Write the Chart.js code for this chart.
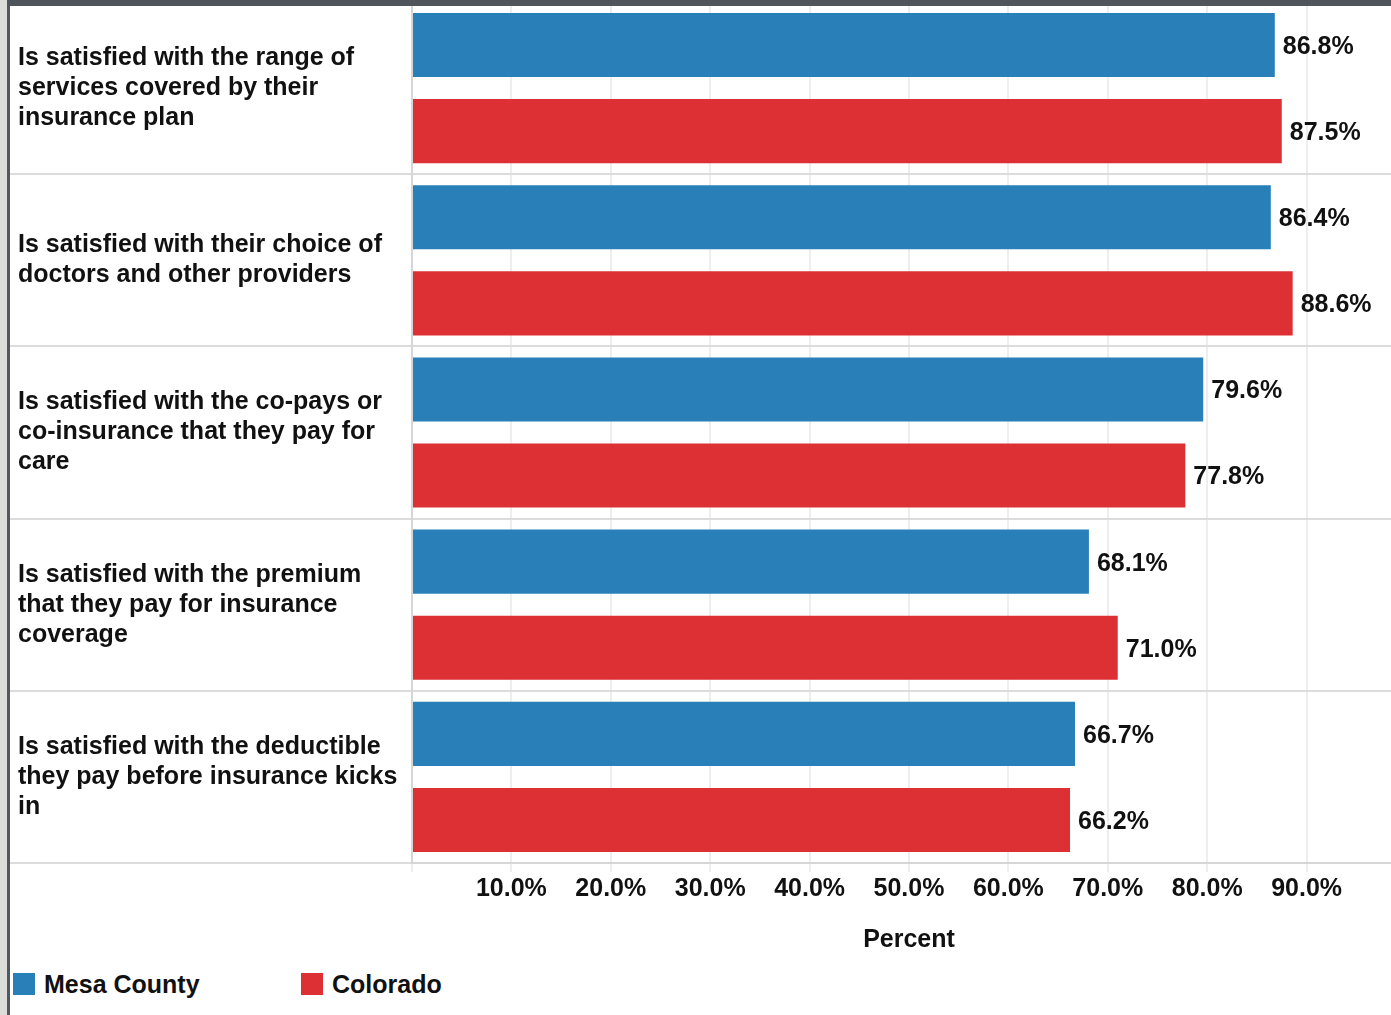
<!DOCTYPE html>
<html>
<head>
<meta charset="utf-8">
<script src="https://cdn.jsdelivr.net/npm/chart.js@4/dist/chart.umd.min.js"></script>
<style>
  html, body { margin: 0; padding: 0; background: #fff; overflow: hidden; }
  body { width: 1391px; height: 1015px; position: relative; font-family: "Liberation Sans", Arial, sans-serif; }
  #sideStrip { position: absolute; left: 0; top: 0; width: 7px; height: 1015px; background: #dcdcd8; }
  #sideLine { position: absolute; left: 7px; top: 0; width: 3px; height: 1015px; background: #54575c; }
  #topBar { position: absolute; left: 7px; top: 0; width: 1384px; height: 6px; background: #50545b; z-index: 2; }
  #wrap { position: absolute; left: 10px; top: 0; width: 1398px; height: 955px; }
  #legend { position: absolute; left: 13px; top: 970px; font-weight: bold; font-size: 25px; color: #111; }
  .item { position: absolute; top: 0; white-space: nowrap; display: flex; align-items: center; height: 28px; }
  .box { display: inline-block; width: 22px; height: 22px; margin-right: 9px; }
</style>
</head>
<body>
<div id="sideStrip"></div>
<div id="sideLine"></div>
<div id="topBar"></div>
<div id="wrap"><canvas id="chart"></canvas></div>
<div id="legend"></div>
<script>
const categories = [
  ["Is satisfied with the range of", "services covered by their", "insurance plan"],
  ["Is satisfied with their choice of", "doctors and other providers"],
  ["Is satisfied with the co-pays or", "co-insurance that they pay for", "care"],
  ["Is satisfied with the premium", "that they pay for insurance", "coverage"],
  ["Is satisfied with the deductible", "they pay before insurance kicks", "in"]
];
const mesaCounty = [86.8, 86.4, 79.6, 68.1, 66.7];
const colorado = [87.5, 88.6, 77.8, 71.0, 66.2];
const seriesNames = ["Mesa County", "Colorado"];
const seriesColors = ["#2980b9", "#dc3034"];

const FONT = '"Liberation Sans", Arial, sans-serif';

// labels at the end of each bar
const valueLabels = {
  id: 'valueLabels',
  afterDatasetsDraw(chart) {
    const ctx = chart.ctx;
    ctx.save();
    ctx.font = 'bold 25px ' + FONT;
    ctx.fillStyle = '#111';
    ctx.textBaseline = 'middle';
    ctx.textAlign = 'left';
    chart.data.datasets.forEach((ds, i) => {
      chart.getDatasetMeta(i).data.forEach((bar, j) => {
        ctx.fillText(ds.data[j].toFixed(1) + '%', bar.x + 8, bar.y + 2);
      });
    });
    ctx.restore();
  }
};

new Chart(document.getElementById('chart'), {
  type: 'bar',
  data: {
    labels: categories,
    datasets: [
      { label: seriesNames[0], data: mesaCounty, backgroundColor: seriesColors[0] },
      { label: seriesNames[1], data: colorado, backgroundColor: seriesColors[1] }
    ]
  },
  options: {
    indexAxis: 'y',
    responsive: true,
    maintainAspectRatio: false,
    animation: false,
    categoryPercentage: 1.0,
    barPercentage: 0.745,
    layout: { padding: { top: 2, left: 8, right: 0, bottom: 0 } },
    plugins: {
      legend: { display: false },
      tooltip: { enabled: false }
    },
    scales: {
      x: {
        min: 0,
        max: 100,
        ticks: {
          stepSize: 10,
          padding: 2,
          color: '#111',
          font: { family: FONT, size: 25, weight: 'bold' },
          maxRotation: 0,
          callback: v => (v > 0 && v < 100) ? v.toFixed(1) + '%' : ''
        },
        grid: { color: '#eeeeee', lineWidth: 2, tickLength: 9 },
        border: { color: '#d6d6d6', width: 2 },
        title: {
          display: true,
          text: 'Percent',
          color: '#111',
          font: { family: FONT, size: 25, weight: 'bold' },
          padding: { top: 19, bottom: 0 }
        }
      },
      y: {
        ticks: {
          autoSkip: false,
          crossAlign: 'far',
          color: '#111',
          font: { family: FONT, size: 25, weight: 'bold', lineHeight: 1.2 }
        },
        grid: { color: '#dcdcdc', lineWidth: 2, tickLength: 402 },
        border: { color: '#d6d6d6', width: 2 },
        afterFit: scale => {
          scale.width = 394;
          scale.paddingTop = 0;
          scale.paddingBottom = 0;
        }
      }
    }
  },
  plugins: [valueLabels]
});

// legend
const legend = document.getElementById('legend');
const legendX = [0, 288];
seriesNames.forEach((name, i) => {
  const item = document.createElement('div');
  item.className = 'item';
  item.style.left = legendX[i] + 'px';
  item.innerHTML = '<span class="box" style="background:' + seriesColors[i] + '"></span>' + name;
  legend.appendChild(item);
});
</script>
</body>
</html>
